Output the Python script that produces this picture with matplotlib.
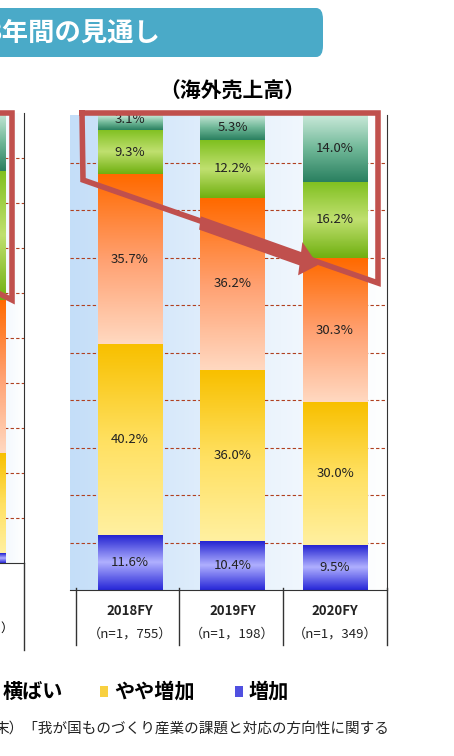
import numpy as np
import matplotlib
matplotlib.use("Agg")
import matplotlib.pyplot as plt
from matplotlib.patches import FancyBboxPatch, Rectangle, FancyArrow
from matplotlib.colors import LinearSegmentedColormap

plt.rcParams['font.family'] = ['Noto Sans CJK JP', 'DejaVu Sans']

categories = ["2018FY", "2019FY", "2020FY"]
n_labels = ["（n=1，755）", "（n=1，198）", "（n=1，349）"]
series = ["増加", "やや増加", "横ばい", "やや減少", "減少"]
inc = [11.6, 10.4, 9.5]
slight_inc = [40.2, 36.0, 30.0]
flat = [35.7, 36.2, 30.3]
slight_dec = [9.3, 12.2, 16.2]
dec = [3.1, 5.3, 14.0]
values = [inc, slight_inc, flat, slight_dec, dec]
left_chart = [2.2, 22.2, 34.0, 28.7, 12.9]  # partially visible neighbouring chart

# gradient colours (top -> bottom) for each series
grads = [
    ["#2020d0", "#b0b0ff", "#2828d8"],
    ["#f8c000", "#ffe060", "#fff0a0"],
    ["#ff6a00", "#ffa070", "#ffd8c0"],
    ["#80c020", "#c0e070", "#70b010"],
    ["#c8e8d8", "#70b898", "#2a8060"],
]

W, H = 454, 756
fig = plt.figure(figsize=(W/100, H/100), dpi=100)

def fr(x0, y0, x1, y1):
    return [x0/W, 1-y1/H, (x1-x0)/W, (y1-y0)/H]

def P(x, y):
    return (x/W, 1-y/H)

def draw_chart(ax, vals_by_series, xs, width):
    bg = np.linspace(0, 1, 256).reshape(1, -1)
    cm_bg = LinearSegmentedColormap.from_list("bg", ["#c4def8", "#e4f0fc", "#ffffff"])
    ax.imshow(bg, extent=[ax.get_xlim()[0], ax.get_xlim()[1], 0, 100], aspect='auto',
              cmap=cm_bg, zorder=0)
    for yv in range(10, 100, 10):
        ax.axhline(yv, color="#b04020", lw=0.8, ls=(0, (3, 2)), zorder=1)
    for i, x in enumerate(xs):
        bottom = 0
        for s, vals in enumerate(vals_by_series):
            v = vals[i]
            cm = LinearSegmentedColormap.from_list("g%d" % s, grads[s][::-1])
            g = np.linspace(0, 1, 64).reshape(-1, 1)
            ax.imshow(g, extent=[x-width/2, x+width/2, bottom, bottom+v], aspect='auto',
                      cmap=cm, origin='lower', zorder=2)
            bottom += v

fig_bg = fig.add_axes([0, 0, 1, 1]); fig_bg.axis('off')

banner = FancyBboxPatch(P(-20, 57), 343/W, 49/H, boxstyle="round,pad=0,rounding_size=0.015",
                        transform=fig.transFigure, fc="#4aaac8", ec="none")
fig.add_artist(banner)
fig.text(-14/W, 1-33/H, "3年間の見通し", color="white", fontsize=19, fontweight='bold', va='center')
fig.text(232/W, 1-91/H, "（海外売上高）", fontsize=15, fontweight='bold', ha='center', va='center')

axl = fig.add_axes(fr(-60, 113, 24, 563))
axl.set_xlim(0, 1); axl.set_ylim(0, 100)
draw_chart(axl, [[v] for v in left_chart], [0.774/2], 0.774)
axl.set_xticks([]); axl.set_yticks([])
for s in ['top', 'left']:
    axl.spines[s].set_visible(False)
axl.spines['right'].set_color('#333'); axl.spines['bottom'].set_color('#333')

ax = fig.add_axes(fr(70, 115, 387, 590))
xs = np.arange(len(categories))
ax.set_xlim(-0.585, 2.507); ax.set_ylim(0, 100)
draw_chart(ax, values, xs, 0.63)
ax.set_xticks([]); ax.set_yticks([])
ax.spines['left'].set_visible(False); ax.spines['top'].set_visible(False)
ax.spines['right'].set_color('#333'); ax.spines['bottom'].set_color('#333')
for i, x in enumerate(xs):
    bottom = 0
    for s, vals in enumerate(values):
        v = vals[i]
        yy = bottom + v/2 if v > 4 else bottom + v*0.75
        ax.text(x, yy, f"{v:.1f}%", ha='center', va='center', fontsize=9.5, color='#222', zorder=5)
        bottom += v
    ax.text(x, -4.5, categories[i], ha='center', va='center', fontsize=9.5, color='#222',
            fontweight='bold', clip_on=False)
    ax.text(x, -9.2, n_labels[i], ha='center', va='center', fontsize=9.5, color='#222', clip_on=False)

for xp in [76, 179, 283, 387]:
    fig.add_artist(plt.Line2D([xp/W, xp/W], [1-588/H, 1-645/H], color='#333', lw=1))
fig.add_artist(plt.Line2D([24/W, 24/W], [1-563/H, 1-650/H], color='#333', lw=1))
fig.text(0/W, 1-628/H, "）", fontsize=9, va='center')

red = "#c0504d"
fig.add_artist(plt.Line2D([82/W, 378/W, 378/W, 83/W, 82/W],
                          [1-113/H, 1-113/H, 1-283/H, 1-180/H, 1-113/H],
                          color=red, lw=4, solid_joinstyle='miter'))
fig.add_artist(plt.Line2D([0, 12/W, 12/W, 0], [1-113/H, 1-113/H, 1-300/H, 1-294/H],
                          color=red, lw=4, solid_joinstyle='miter'))
ar = FancyArrow(200/W, 1-223/H, 118/W, -42/H, width=0.018, head_width=0.045, head_length=0.04,
                length_includes_head=True, transform=fig.transFigure, fc=red, ec='none')
fig.add_artist(ar)

fig.text(3/W, 1-691/H, "横ばい", fontsize=14.5, fontweight='bold', va='center')
fig.add_artist(Rectangle(P(100, 697), 8/W, 11/H, transform=fig.transFigure, fc="#f8d040", ec='none'))
fig.text(114/W, 1-691/H, "やや増加", fontsize=14.5, fontweight='bold', va='center')
fig.add_artist(Rectangle(P(235, 697), 8/W, 11/H, transform=fig.transFigure, fc="#5050e0", ec='none'))
fig.text(249/W, 1-691/H, "増加", fontsize=14.5, fontweight='bold', va='center')

fig.text(-6/W, 1-729/H, "末）「我が国ものづくり産業の課題と対応の方向性に関する", fontsize=10.5, va='center', color='#222')

fig.savefig("out.png", dpi=100)
